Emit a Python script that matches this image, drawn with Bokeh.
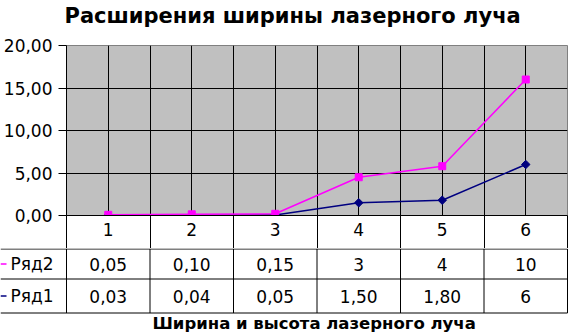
from bokeh.plotting import figure
from bokeh.layouts import column
from bokeh.models import Range1d, FixedTicker, Grid, Title
from bokeh.core.properties import value
from bokeh.embed import file_html
from bokeh.resources import INLINE

# ---------------- data ----------------
TITLE = "Расширения ширины лазерного луча"
X_TITLE = "Ширина  и высота лазерного луча"
CATEGORIES = [1, 2, 3, 4, 5, 6]
SERIES_NAMES = ["Ряд2", "Ряд1"]
RYAD1 = [0.03, 0.04, 0.05, 1.50, 1.80, 6]
RYAD2 = [0.05, 0.10, 0.15, 3, 4, 10]
RYAD1_LABELS = ["0,03", "0,04", "0,05", "1,50", "1,80", "6"]
RYAD2_LABELS = ["0,05", "0,10", "0,15", "3", "4", "10"]
Y_TICKS = [0, 5, 10, 15, 20]
Y_TICK_LABELS = ["0,00", "5,00", "10,00", "15,00", "20,00"]

# stacked line chart: Ряд2 is drawn on top of Ряд1
RYAD2_STACKED = [a + b for a, b in zip(RYAD1, RYAD2)]

# ---------------- layout ----------------
W = 570
LEFT = 66
RIGHT = 3
FRAME_W = W - LEFT - RIGHT
X0 = CATEGORIES[0] - 0.5
X1 = CATEGORIES[-1] + 0.5
UNIT = FRAME_W / (X1 - X0)
H1 = 248
TOP = 45
HEADER = 33
H2 = 85
ROW_HEIGHTS = [30, 34]
XLABEL_Y = 75

FONT = "DejaVu Sans"
NAVY = "#000080"
MAGENTA = "#FF00FF"

# ---------------- chart ----------------
p = figure(width=W, height=H1, x_range=Range1d(X0, X1), y_range=Range1d(0, 20),
           output_backend="svg", toolbar_location=None,
           min_border_left=LEFT, min_border_right=RIGHT,
           min_border_top=TOP, min_border_bottom=HEADER,
           background_fill_color="#C0C0C0", border_fill_color="white",
           outline_line_color="#808080", frame_align=False)
p.grid.visible = False

boundaries = [c - 0.5 for c in CATEGORIES] + [CATEGORIES[-1] + 0.5]
xgrid_pos = sorted(set(CATEGORIES + boundaries[1:-1]))
p.add_layout(Grid(dimension=0, ticker=FixedTicker(ticks=xgrid_pos),
                  grid_line_color="black", grid_line_width=1), "center")
p.add_layout(Grid(dimension=1, ticker=FixedTicker(ticks=Y_TICKS[1:-1]),
                  grid_line_color="black", grid_line_width=1), "center")

yax = p.yaxis[0]
yax.ticker = FixedTicker(ticks=Y_TICKS)
yax.major_label_overrides = dict(zip(Y_TICKS, Y_TICK_LABELS))
yax.major_tick_out = 8
yax.major_tick_in = 0
yax.minor_tick_out = 0
yax.minor_tick_in = 0
yax.axis_line_color = "black"
yax.major_tick_line_color = "black"
yax.major_label_text_font = FONT
yax.major_label_text_font_size = "17px"
yax.major_label_text_color = "black"
yax.major_label_standoff = 6

xax = p.xaxis[0]
xax.ticker = FixedTicker(ticks=CATEGORIES, minor_ticks=boundaries)
xax.major_tick_out = 0
xax.major_tick_in = 0
xax.minor_tick_out = HEADER
xax.minor_tick_in = 0
xax.minor_tick_line_color = "black"
xax.axis_line_color = "black"
xax.axis_line_width = 1
xax.major_label_text_font = FONT
xax.major_label_text_font_size = "17px"
xax.major_label_text_color = "black"
xax.major_label_standoff = -HEADER + 7

# title: empty built-in title, a small spacer next to the frame, then the real title
p.title.text = ""
p.title.standoff = 0
p.add_layout(Title(text=" ", text_font=FONT, text_font_size="14px", standoff=0), "above")
p.add_layout(Title(text=TITLE, text_font=FONT, text_font_style="bold",
                   text_font_size="21px", text_color="black", align="left",
                   offset=-2, standoff=0), "above")

p.line(CATEGORIES, RYAD1, line_color=NAVY, line_width=1.5)
p.scatter(CATEGORIES, RYAD1, marker="square", angle=0.785, size=6,
          fill_color=NAVY, line_color=NAVY)
p.line(CATEGORIES, RYAD2_STACKED, line_color=MAGENTA, line_width=1.5)
p.scatter(CATEGORIES, RYAD2_STACKED, marker="square", size=7,
          fill_color=MAGENTA, line_color=MAGENTA)

# ---------------- data table ----------------
XS = X0 - LEFT / UNIT
XE = X1 + RIGHT / UNIT
t = figure(width=W, height=H2, x_range=Range1d(XS, XE), y_range=Range1d(H2, 0),
           output_backend="svg", toolbar_location=None, min_border=0,
           x_axis_location=None, y_axis_location=None, outline_line_color=None,
           frame_align=False)
t.grid.visible = False

n_rows = len(SERIES_NAMES)
hy = [0.5]
for h in ROW_HEIGHTS:
    hy.append(hy[-1] + h)
t.segment(x0=[XS] * len(hy), y0=hy, x1=[X1] * len(hy), y1=hy,
          line_color="black", line_width=1)
t.segment(x0=boundaries, y0=[hy[0]] * len(boundaries), x1=boundaries,
          y1=[hy[-1]] * len(boundaries), line_color="black", line_width=1)

row_c = [(hy[i] + hy[i + 1]) / 2 for i in range(n_rows)]
t.segment(x0=[XS] * n_rows, y0=row_c, x1=[XS + 6 / UNIT] * n_rows, y1=row_c,
          line_color=[MAGENTA, NAVY], line_width=1.5)
t.text(x=[XS + 10 / UNIT] * n_rows, y=row_c, text=SERIES_NAMES,
       text_font=value(FONT), text_font_size=value("17px"), text_color="black",
       text_align="left", text_baseline="middle")

cell_x = CATEGORIES + CATEGORIES
cell_y = [row_c[0]] * len(CATEGORIES) + [row_c[1]] * len(CATEGORIES)
t.text(x=cell_x, y=cell_y, text=RYAD2_LABELS + RYAD1_LABELS,
       text_font=value(FONT), text_font_size=value("17px"), text_color="black",
       text_align="center", text_baseline="middle")

t.text(x=[(X0 + X1) / 2], y=[XLABEL_Y], text=[X_TITLE],
       text_font=value(FONT), text_font_size=value("16.5px"), text_font_style="bold",
       text_color="black", text_align="center", text_baseline="middle")

layout = column(p, t, spacing=0)
open("out.html", "w").write(file_html(layout, INLINE))
